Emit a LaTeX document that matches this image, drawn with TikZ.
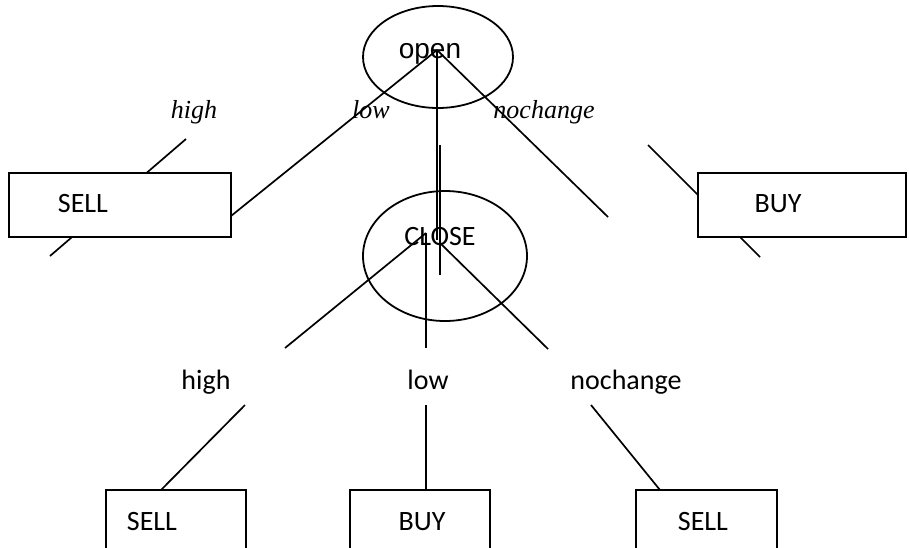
\documentclass[tikz,border=0pt]{standalone}
\usepackage{fontspec}
\setmainfont{Carlito}
\newfontfamily\arialfont{Liberation Sans}
\newfontfamily\timesfont{Liberation Serif}
\usetikzlibrary{shapes.geometric}
\tikzstyle{branch} = [line width=1.7pt, black]
\tikzstyle{decision} = [draw, line width=1.9pt, fill=white, rectangle, inner sep=0pt, minimum height=64pt]
\tikzstyle{state} = [draw, line width=1.8pt, ellipse, inner sep=0pt]
\tikzstyle{word} = [inner sep=0pt, anchor=base, font=\fontsize{28}{30}\selectfont]
\tikzstyle{slanted} = [inner sep=0pt, anchor=base, font=\timesfont\itshape\fontsize{26}{28}\selectfont]

\begin{document}
\begin{tikzpicture}[x=1pt, y=-1pt]
    \useasboundingbox (0,0) rectangle (909,547);
    \clip (0,0) rectangle (909,547);

    % States
    \node[state, minimum width=150pt, minimum height=102pt] (open) at (438,57) {};
    \node[state, minimum width=164pt, minimum height=130pt] (close) at (445,256) {};
    \node[word, font=\arialfont\fontsize{28}{30}\selectfont] (openTxt) at (430,58) {open};
    \node[word] (closeTxt) at (440,245) {CLOSE};

    % Branch ends
    \coordinate (openTip) at (437,50);
    \coordinate (openHigh) at (231,216);
    \coordinate (openLow) at (437,240);
    \coordinate (openNo) at (608,217);
    \coordinate (closeTipL) at (426,233);
    \coordinate (closeTipR) at (440,243);
    \coordinate (closeHigh) at (285,348);
    \coordinate (closeLow) at (426,348);
    \coordinate (closeNo) at (548,349);
    \coordinate (highFrom) at (245,405);
    \coordinate (lowFrom) at (426,405);
    \coordinate (noFrom) at (591,405);
    \coordinate (highTo) at (161,490);
    \coordinate (lowTo) at (426,490);
    \coordinate (noTo) at (660,490);

    % Loose strokes behind the boxes
    \coordinate (sellA) at (186,139);
    \coordinate (sellB) at (50,256);
    \coordinate (buyA) at (648,145);
    \coordinate (buyB) at (760,257);
    \coordinate (midA) at (440,145);
    \coordinate (midB) at (440,275);
    \draw[branch] (sellA) -- (sellB);
    \draw[branch] (buyA) -- (buyB);
    \draw[branch] (midA) -- (midB);

    % Open branches
    \draw[branch] (openTip) -- (openHigh);
    \draw[branch] (openTip) -- (openLow);
    \draw[branch] (openTip) -- (openNo);

    % Close branches
    \draw[branch] (closeTipL) -- (closeHigh);
    \draw[branch] (closeTipL) -- (closeLow);
    \draw[branch] (closeTipR) -- (closeNo);
    \draw[branch] (highFrom) -- (highTo);
    \draw[branch] (lowFrom) -- (lowTo);
    \draw[branch] (noFrom) -- (noTo);

    % Decisions
    \node[decision, minimum width=222pt] (sellTop) at (120,205) {};
    \node[decision, minimum width=208pt] (buyTop) at (802,205) {};
    \node[decision, minimum width=140pt, minimum height=100pt] (sellHigh) at (176,540) {};
    \node[decision, minimum width=140pt, minimum height=100pt] (buyLow) at (420,540) {};
    \node[decision, minimum width=141pt, minimum height=100pt] (sellNo) at (706.5,540) {};
    \node[word] (sellTopTxt) at (83,212) {SELL};
    \node[word] (buyTopTxt) at (778,212) {BUY};
    \node[word] (sellHighTxt) at (152,530) {SELL};
    \node[word] (buyLowTxt) at (422,530) {BUY};
    \node[word] (sellNoTxt) at (703,530) {SELL};

    % Labels
    \node[slanted] (highA) at (194,118) {high};
    \node[slanted] (lowA) at (371,118) {low};
    \node[slanted] (noA) at (544,118) {nochange};
    \node[word] (highB) at (206,389) {high};
    \node[word] (lowB) at (428,389) {low};
    \node[word] (noB) at (626,389) {nochange};
\end{tikzpicture}
\end{document}
